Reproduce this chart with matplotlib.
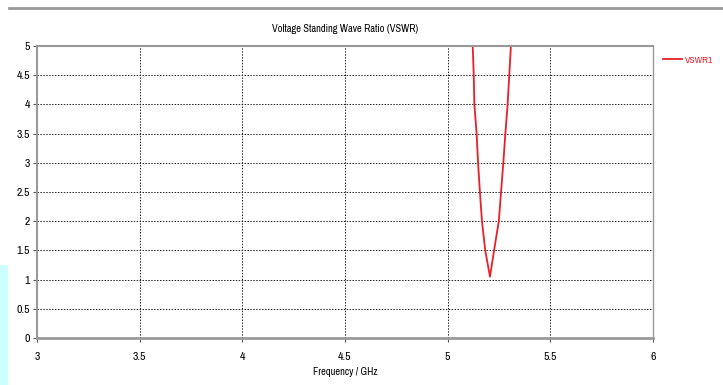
import numpy as np
import matplotlib.pyplot as plt
from matplotlib.lines import Line2D
from matplotlib.patches import Rectangle
from matplotlib import font_manager

# values
freq = [5.105, 5.122, 5.127, 5.130, 5.141, 5.148, 5.157, 5.167, 5.183, 5.206,
        5.226, 5.249, 5.260, 5.271, 5.281, 5.292, 5.300, 5.308, 5.313]
vswr = [5.4, 5.0, 4.5, 4.0, 3.5, 3.0, 2.5, 2.0, 1.5, 1.05,
        1.5, 2.0, 2.5, 3.0, 3.5, 4.0, 4.5, 5.0, 5.4]
xticks = [3, 3.5, 4, 4.5, 5, 5.5, 6]
xlabels = ['3', '3.5', '4', '4.5', '5', '5.5', '6']
yticks = [0, 0.5, 1, 1.5, 2, 2.5, 3, 3.5, 4, 4.5, 5]
ylabels = ['0', '0.5', '1', '1.5', '2', '2.5', '3', '3.5', '4', '4.5', '5']

# look for a narrow font, like the screenshot's
fam = 'DejaVu Sans'
for f in font_manager.fontManager.ttflist:
    if 'Narrow' in f.name or 'Condensed' in f.name:
        fam = f.name
        break
plt.rcParams['font.family'] = [fam, 'DejaVu Sans']

fig = plt.figure(figsize=(7.23, 3.85), dpi=100)
ax = fig.add_axes([37/723, 47/385, 616/723, 292/385])

ax.plot(freq, vswr, color='#e8202a', lw=1.3, label='VSWR1')
ax.set_xlim(3, 6)
ax.set_ylim(0, 5)
ax.set_xticks(xticks, xlabels)
ax.set_yticks(yticks, ylabels)
ax.tick_params(labelsize=8.5, length=3, width=0.8, color='#555555', pad=2)
ax.tick_params(axis='x', pad=7)
ax.grid(True, color='#222222', linestyle=(0, (1.5, 1.5)), lw=0.7)
for s in ax.spines.values():
    s.set_color('#999999')
    s.set_linewidth(1.0)
ax.spines['left'].set_linewidth(1.5)
ax.spines['bottom'].set_linewidth(2)
ax.spines['top'].set_linewidth(1.5)

ax.set_title('Voltage Standing Wave Ratio (VSWR)', fontsize=7.5, pad=10)
ax.set_xlabel('Frequency / GHz', fontsize=7.5, labelpad=4)

ax.legend(loc='upper left', bbox_to_anchor=(1.0, 1.0), frameon=False,
          fontsize=7, handlelength=2.0, handletextpad=0.3, borderaxespad=0.6,
          labelcolor='#e8202a')

# top grey rule and cyan strip from the screenshot
fig.add_artist(Line2D([9/723, 1], [1 - 7.5/385] * 2, color='#999999', lw=2))
fig.add_artist(Rectangle((0, 0), 8/723, 120/385, color='#ccffff', lw=0))

fig.savefig('out.png', dpi=100)
